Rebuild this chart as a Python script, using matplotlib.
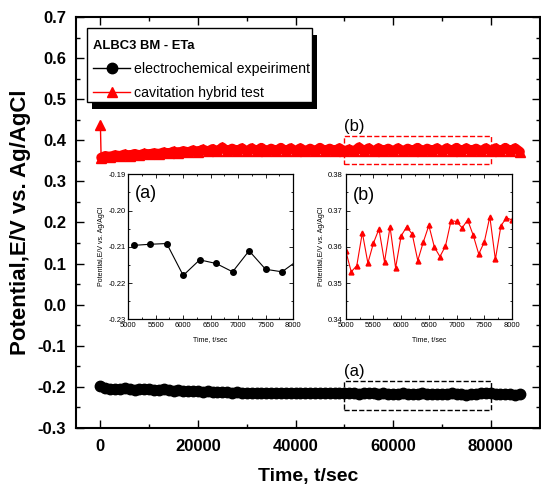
import matplotlib
matplotlib.use("Agg")
import matplotlib.pyplot as plt
from matplotlib.patches import Rectangle
from matplotlib.ticker import MultipleLocator

plt.rcParams['font.family'] = ['Liberation Sans', 'DejaVu Sans']

# main curves ---------------------------------------------------------------
t_black = list(range(0, 87000, 1000))
v_black = [-0.197, -0.203, -0.204, -0.206, -0.205, -0.203, -0.205, -0.207, -0.206, -0.204,
           -0.206, -0.208, -0.207, -0.205, -0.208, -0.209, -0.208, -0.210, -0.211, -0.210,
           -0.211, -0.212, -0.211, -0.212, -0.213, -0.212, -0.213, -0.214, -0.213, -0.214,
           -0.215, -0.214, -0.214, -0.215, -0.214, -0.215, -0.216, -0.215, -0.214, -0.215,
           -0.216, -0.215, -0.214, -0.215, -0.216, -0.215, -0.214, -0.215, -0.216, -0.215,
           -0.215, -0.214, -0.216, -0.217, -0.216, -0.215, -0.216, -0.217, -0.216, -0.217,
           -0.218, -0.217, -0.216, -0.217, -0.218, -0.217, -0.216, -0.217, -0.218, -0.217,
           -0.218, -0.217, -0.216, -0.217, -0.218, -0.219, -0.218, -0.217, -0.216, -0.215,
           -0.216, -0.217, -0.218, -0.217, -0.218, -0.219, -0.218]

t_red = [0, 150] + list(range(1000, 87000, 1000))
v_red = [0.437, 0.358,
         0.362, 0.360, 0.364, 0.362, 0.366, 0.363, 0.367, 0.364, 0.368, 0.366,
         0.369, 0.367, 0.371, 0.368, 0.373, 0.370, 0.374, 0.371, 0.376, 0.372,
         0.378, 0.373, 0.379, 0.373, 0.383, 0.373, 0.380, 0.374, 0.381, 0.373,
         0.381, 0.374, 0.382, 0.373, 0.380, 0.374, 0.382, 0.373, 0.381, 0.374,
         0.381, 0.373, 0.380, 0.373, 0.382, 0.374, 0.380, 0.374, 0.381, 0.373,
         0.378, 0.373, 0.383, 0.374, 0.381, 0.373, 0.381, 0.374, 0.380, 0.373,
         0.381, 0.373, 0.380, 0.374, 0.382, 0.373, 0.380, 0.374, 0.381, 0.373,
         0.381, 0.374, 0.382, 0.373, 0.381, 0.374, 0.380, 0.373, 0.381, 0.374,
         0.381, 0.373, 0.382, 0.373, 0.381, 0.372]

# zoomed windows ------------------------------------------------------------
t_ins_a = [5100, 5400, 5700, 6000, 6300, 6600, 6900, 7200, 7500, 7800, 8100]
v_ins_a = [-0.2096, -0.2093, -0.2091, -0.2179, -0.2136, -0.2146, -0.2169,
           -0.2111, -0.2162, -0.2169, -0.2136]

t_ins_b = list(range(5000, 8100, 100))
v_ins_b = [0.3589, 0.3531, 0.3548, 0.3639, 0.3555, 0.3610, 0.3649, 0.3558,
           0.3655, 0.3542, 0.3630, 0.3655, 0.3635, 0.3562, 0.3613, 0.3659,
           0.3599, 0.3573, 0.3602, 0.3672, 0.3670, 0.3652, 0.3674, 0.3632,
           0.3580, 0.3613, 0.3683, 0.3565, 0.3658, 0.3680, 0.3674]

legend_title = "ALBC3 BM - ETa"
label_black = "electrochemical expeiriment"
label_red = "cavitation hybrid test"
ylab = "Potential,E/V vs. Ag/AgCl"
xlab = "Time, t/sec"

W, H = 541, 498
fig = plt.figure(figsize=(W / 100, H / 100), dpi=100)

def fbox(x0, y0, x1, y1):
    # pixel box (top-left origin) -> figure fraction rect
    return [x0 / W, 1 - y1 / H, (x1 - x0) / W, (y1 - y0) / H]

ax = fig.add_axes(fbox(76, 17, 539.5, 428))
# heavy strokes under the markers so the dense records read as solid bands
ax.plot(t_black, v_black, '-', color='black', lw=6.5, solid_capstyle='round', zorder=2)
ax.plot(t_red[1:], v_red[1:], '-', color='red', lw=7, solid_capstyle='round',
        zorder=2)
ax.plot(t_black, v_black, '-', color='black', lw=1, marker='o', ms=7.5,
        mec='black', mfc='black', label=label_black, zorder=3)
ax.plot(t_red, v_red, '-', color='red', lw=1, marker='^', ms=7,
        mec='red', mfc='red', label=label_red, zorder=3)

ax.set_xlim(-5000, 90000)
ax.set_ylim(-0.3, 0.7)
ax.xaxis.set_major_locator(MultipleLocator(20000))
ax.xaxis.set_minor_locator(MultipleLocator(10000))
ax.yaxis.set_major_locator(MultipleLocator(0.1))
ax.yaxis.set_minor_locator(MultipleLocator(0.05))
ax.yaxis.set_major_formatter(matplotlib.ticker.FormatStrFormatter('%.1f'))
ax.tick_params(which='both', direction='in', top=True, right=True, width=1)
ax.tick_params(which='major', length=6, labelsize=12)
ax.tick_params(axis='x', which='major', pad=8)
ax.tick_params(axis='y', which='major', pad=7)
ax.tick_params(which='minor', length=3)
for lab in ax.get_xticklabels() + ax.get_yticklabels():
    lab.set_fontweight('bold')
for sp in ax.spines.values():
    sp.set_linewidth(1.5)
ax.set_xlabel(xlab, fontsize=14, fontweight='bold', labelpad=10)
ax.set_ylabel(ylab, fontsize=16, fontweight='bold', labelpad=5)

# dashed boxes marking the zoomed windows
ax.add_patch(Rectangle((50000, -0.256), 30000, 0.071, fill=False, ls='--',
                       ec='black', lw=1, zorder=4))
ax.add_patch(Rectangle((50000, 0.342), 30000, 0.069, fill=False, ls='--',
                       ec='red', lw=1, zorder=4))
ax.text(50000, -0.163, "(a)", fontsize=12, ha='left', va='center')
ax.text(50000, 0.433, "(b)", fontsize=12, ha='left', va='center')

# legend: content without frame, frame + solid shadow drawn as patches
leg = ax.legend(loc='upper left', bbox_to_anchor=(87 / W, 1 - 33.5 / H),
                bbox_transform=fig.transFigure, borderaxespad=0,
                title=legend_title, alignment='left', fontsize=10.2,
                title_fontproperties={'size': 9.4, 'weight': 'bold'},
                frameon=False, handlelength=2.6, labelspacing=0.72,
                borderpad=0.43, handletextpad=0.3)
leg.set_zorder(11)
lx0, lx1, ly0, ly1 = 87, 312, 28, 102
frame = Rectangle((lx0, H - ly1), lx1 - lx0, ly1 - ly0, transform=None,
                  fc='white', ec='black', lw=1, zorder=10, clip_on=False)
shadow = Rectangle((lx0 + 5, H - ly1 - 7), lx1 - lx0, ly1 - ly0, transform=None,
                   fc='black', ec='none', zorder=9, clip_on=False)
ax.add_patch(shadow)
ax.add_patch(frame)

# insets
def style_inset(a):
    a.tick_params(which='both', direction='in', top=True, right=True,
                  labelsize=5.5, width=0.6, pad=2)
    a.tick_params(which='major', length=3)
    a.tick_params(which='minor', length=1.5)
    for sp in a.spines.values():
        sp.set_linewidth(0.9)
    a.set_xlim(5000, 8000)
    a.xaxis.set_major_locator(MultipleLocator(500))
    a.xaxis.set_minor_locator(MultipleLocator(250))
    a.yaxis.set_minor_locator(MultipleLocator(0.005))
    a.yaxis.set_major_locator(MultipleLocator(0.01))
    a.yaxis.set_major_formatter(matplotlib.ticker.FormatStrFormatter('%.2f'))
    a.set_xlabel(xlab, fontsize=5, labelpad=5)
    a.set_ylabel(ylab, fontsize=5, labelpad=2)

ins_a = fig.add_axes(fbox(128.3, 174.3, 293, 319.3))
ins_a.plot(t_ins_a, v_ins_a, '-', color='black', lw=0.8, marker='o', ms=4)
ins_a.set_ylim(-0.23, -0.19)
style_inset(ins_a)
ins_a.text(0.04, 0.87, "(a)", transform=ins_a.transAxes, fontsize=13,
           ha='left', va='center')

ins_b = fig.add_axes(fbox(345.7, 174.3, 512, 319.3))
ins_b.plot(t_ins_b, v_ins_b, '-', color='red', lw=0.8, marker='^', ms=3.5)
ins_b.set_ylim(0.34, 0.38)
style_inset(ins_b)
ins_b.text(0.044, 0.857, "(b)", transform=ins_b.transAxes, fontsize=13,
           ha='left', va='center')

fig.savefig("out.png", dpi=100)
